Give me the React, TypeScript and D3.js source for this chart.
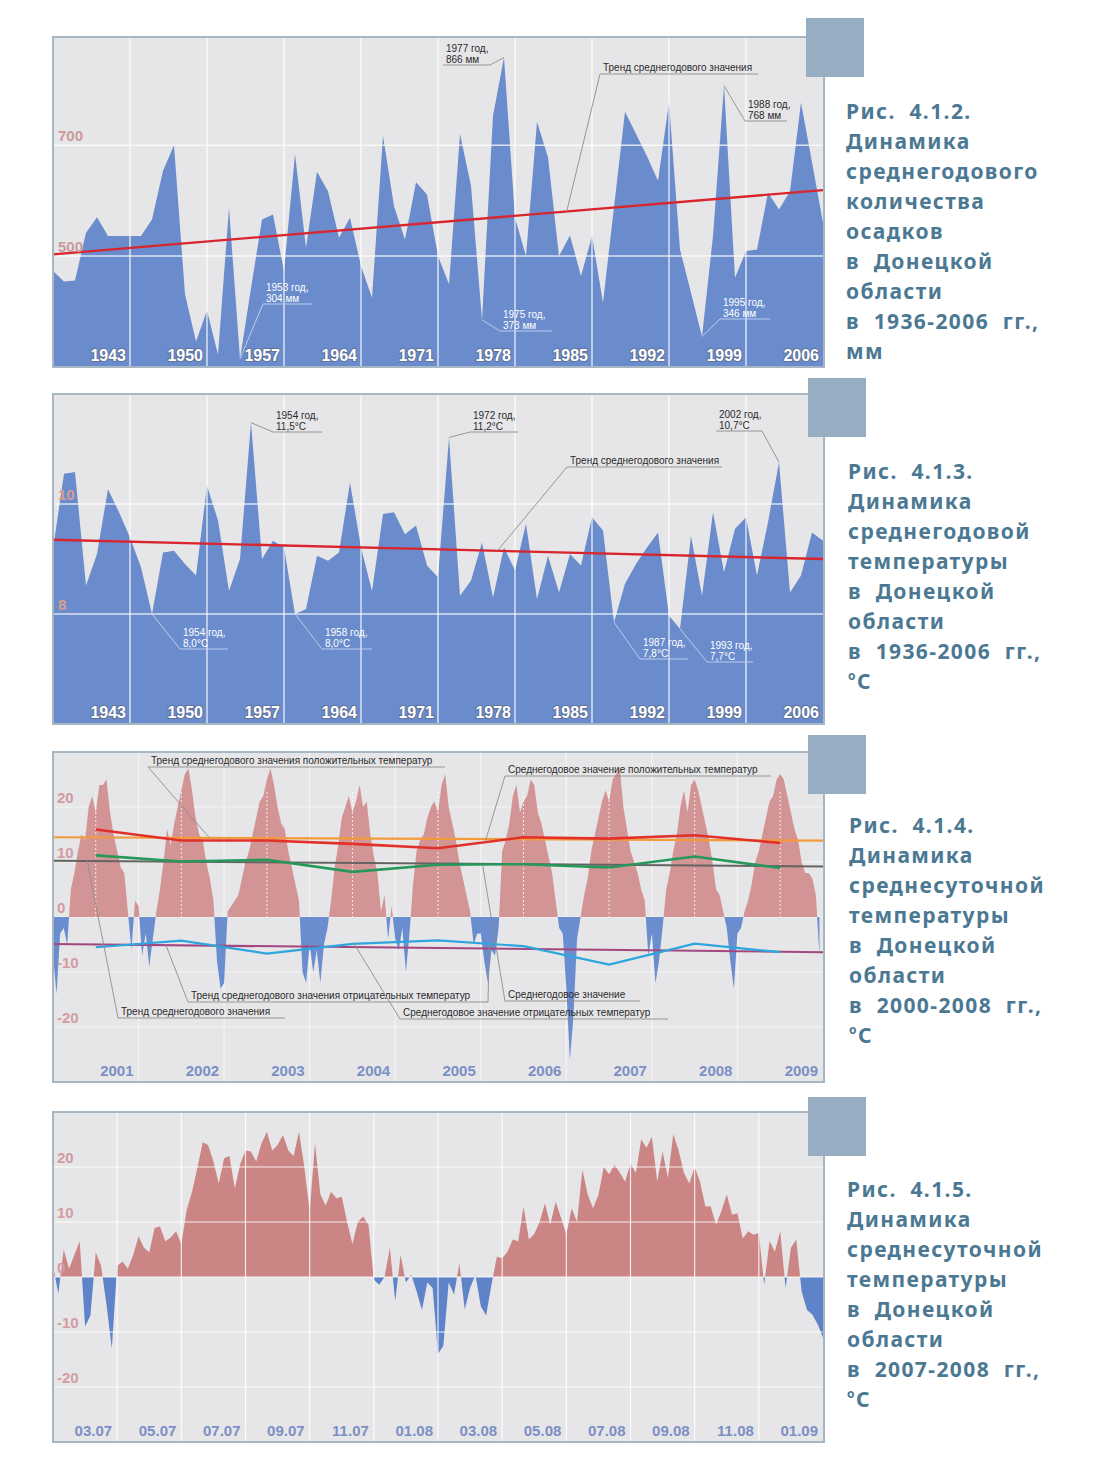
import React from 'react';
import * as d3 from 'd3';

const PAGE_W = 1111;
const PAGE_H = 1480;
const LEFT = 53;
const RIGHT = 824;
const PLOT_H = 330;

// ---------- Рис. 4.1.2 / 4.1.3 : annual values 1936-2006 ----------
const annualYears = d3.range(1936, 2007);
const precipitation = [
  473, 454, 456, 542, 570, 536, 536, 536, 536, 566, // 1936-1945
  654, 700, 431, 346, 402, 322, 587, 315, 442, 566, // 1946-1955
  575, 473, 684, 515, 652, 617, 533, 569, 482, 425, // 1956-1965
  717, 590, 530, 633, 611, 500, 449, 720, 627, 385, // 1966-1975
  753, 858, 569, 500, 742, 678, 500, 537, 464, 536, // 1976-1985
  416, 588, 760, 720, 680, 636, 777, 512, 434, 355, // 1986-1995
  536, 807, 461, 509, 512, 614, 584, 617, 777, 669, // 1996-2005
  560,
];
const temperature = [
  9.18, 10.55, 10.58, 8.52, 9.09, 10.27, 9.85, 9.39, 8.85, 8.0,
  9.12, 9.15, 8.91, 8.7, 10.33, 9.7, 8.42, 9.0, 11.48, 9.0,
  9.33, 9.21, 8.0, 8.09, 9.06, 8.97, 9.12, 10.39, 9.21, 8.42,
  9.82, 9.85, 9.45, 9.61, 8.88, 8.67, 11.21, 8.33, 8.61, 9.3,
  8.3, 9.21, 8.79, 9.64, 8.27, 9.06, 8.39, 9.09, 8.88, 9.76,
  9.52, 7.85, 8.55, 8.91, 9.21, 9.48, 7.97, 7.73, 9.42, 8.33,
  9.85, 8.76, 9.55, 9.76, 8.7, 9.67, 10.76, 8.39, 8.7, 9.48,
  9.33,
];
const trendYears = [1936, 2006];
const precipTrend = [503, 619];
const tempTrend = [9.35, 9.0];
const yearTicks = [1943, 1950, 1957, 1964, 1971, 1978, 1985, 1992, 1999, 2006];
const precipTicks = [700, 500];
const tempTicks = [10, 8];

// ---------- Рис. 4.1.4 : daily temperature 2000-2008 (read twice a month) ----------
const dailyYears = [2000, 2001, 2002, 2003, 2004, 2005, 2006, 2007, 2008];
const d2000 = [-7, -14, -3, -2, -5, 5, 8, 12, 15, 14, 20, 22, 19, 24, 24, 25, 19, 15, 12, 9, 8, 1, -6, 3];
const d2001 = [2, -7, -3, -9, -4, 1, 5, 10, 16, 13, 17, 20, 23, 26, 27, 23, 18, 15, 14, 10, 7, 3, -8, -13];
const d2002 = [-12, 1, 2, 3, 4, 7, 10, 12, 15, 18, 21, 22, 25, 27, 24, 20, 17, 16, 12, 9, 6, 3, -10, -12];
const d2003 = [-5, -10, -6, -12, -5, -2, 3, 9, 13, 18, 20, 22, 19, 21, 24, 20, 21, 15, 11, 8, 1, 4, -4, 2];
const d2004 = [-4, -6, -2, -10, -3, 6, 12, 14, 15, 18, 20, 21, 19, 24, 26, 20, 17, 14, 10, 7, 4, 1, -5, -3];
const d2005 = [-3, -8, -12, -6, -7, -2, 12, 14, 17, 22, 24, 19, 21, 22, 25, 24, 19, 17, 14, 11, 8, 3, -2, -3];
const d2006 = [-13, -26, -18, -4, 0, 4, 7, 12, 15, 18, 21, 23, 21, 25, 26, 27, 20, 16, 12, 10, 8, 5, 3, -7];
const d2007 = [-3, -12, -8, -2, 5, 8, 12, 15, 20, 23, 19, 24, 25, 23, 20, 17, 14, 10, 5, 4, 1, -2, -8, -13];
const d2008 = [-3, -2, 1, 3, 6, 10, 12, 15, 18, 21, 22, 25, 26, 25, 22, 19, 16, 14, 10, 8, 8, 7, 4, -7];
const dailyByYear = [d2000, d2001, d2002, d2003, d2004, d2005, d2006, d2007, d2008];
const midYears = [2000.5, 2001.5, 2002.5, 2003.5, 2004.5, 2005.5, 2006.5, 2007.5, 2008.5];
const posMean = [15.9, 13.9, 13.9, 13.3, 12.5, 14.5, 14.25, 14.85, 13.45];
const allMean = [11.2, 10.1, 10.4, 8.2, 9.5, 9.6, 9.0, 11.0, 8.9];
const negMean = [-5.5, -4.3, -6.65, -4.9, -4.25, -5.3, -8.65, -4.85, -6.4];
const periodEnds = [2000, 2009];
const posTrend = [14.5, 13.9];
const allTrend = [10.25, 9.2];
const negTrend = [-4.9, -6.4];
const yearLabels = [2001, 2002, 2003, 2004, 2005, 2006, 2007, 2008, 2009];

// ---------- Рис. 4.1.5 : daily temperature 2007-2008 (six readings a month) ----------
const t2007 = [
  2, -3, 5, 1.5, 4, 6.5, -9, -7, 4.5, 2, -5, -13,
  2, 2.8, 1.5, 4, 7.4, 5.3, 4.5, 8.9, 9.2, 6.5, 7.2, 8.3,
  6, 12.2, 15.5, 19.8, 24.5, 24, 21, 17, 21.6, 22, 16.1, 20.5,
  23, 22.8, 21, 24.3, 26.4, 23, 24, 25.8, 23, 22, 26.4, 20,
  11.9, 24.3, 15, 13, 15.5, 14.3, 14.6, 10, 6, 10, 11, 9.5,
  -0.5, -1.4, 0, 5.3, -4.4, 4, -1, 0.4, -2.6, -6, -1, -2,
];
const t2008 = [
  -14, -12.5, -1, -3.2, 2.5, -5.9, -2, 0.4, -5.3, -7, -1.4, 3.7,
  3.4, 4.6, 6.8, 6.5, 12.8, 6.8, 7.8, 10, 13.4, 9.5, 13.7, 10.8,
  7.7, 12.5, 10, 19.5, 15, 12.5, 14.9, 20, 18.7, 20.4, 19, 17.3,
  20.7, 18.9, 25, 23.5, 25.5, 17.3, 22.8, 18, 26, 23, 18.9, 17,
  20, 17.3, 12.8, 12.8, 9.5, 12, 15, 11.3, 11.6, 7, 8.3, 7.7,
  8, -1.4, 6.5, 4.6, 8.3, -2, 5.3, 6.8, -2.6, -6, -6.8, -8.6,
  -11,
];
const monthTicks = [2, 4, 6, 8, 10, 12, 14, 16, 18, 20, 22, 24];
const monthLabels = ['03.07', '05.07', '07.07', '09.07', '11.07', '01.08', '03.08', '05.08', '07.08', '09.08', '11.08', '01.09'];
const dailyTicks = [20, 10, 0, -10, -20];

// ---------- captions ----------
const caption2 = ['Рис.  4.1.2.', 'Динамика', 'среднегодового', 'количества', 'осадков', 'в  Донецкой', 'области', 'в  1936-2006  гг.,', 'мм'];
const caption3 = ['Рис.  4.1.3.', 'Динамика', 'среднегодовой', 'температуры', 'в  Донецкой', 'области', 'в  1936-2006  гг.,', '°С'];
const caption4 = ['Рис.  4.1.4.', 'Динамика', 'среднесуточной', 'температуры', 'в  Донецкой', 'области', 'в  2000-2008  гг.,', '°С'];
const caption5 = ['Рис.  4.1.5.', 'Динамика', 'среднесуточной', 'температуры', 'в  Донецкой', 'области', 'в  2007-2008  гг.,', '°С'];

// annotation layout: underline [x1, x2, y], leaders [side, series, x value]
type Leader = [string, string, number];
interface NoteDef { lines: string[]; ul: [number, number, number]; leaders: Leader[]; light?: boolean }

const notes2: NoteDef[] = [
  { lines: ['1977 год,', '866 мм'], ul: [443, 490, 65], leaders: [['right', 'data', 1977]] },
  { lines: ['Тренд среднегодового значения'], ul: [600, 758, 74], leaders: [['left', 'trend', 1982.7]] },
  { lines: ['1988 год,', '768 мм'], ul: [745, 787, 121], leaders: [['left', 'data', 1997]] },
  { lines: ['1975 год,', '373 мм'], ul: [500, 552, 331], leaders: [['left', 'data', 1975]], light: true },
  { lines: ['1995 год,', '346 мм'], ul: [720, 770, 319], leaders: [['left', 'data', 1995]], light: true },
  { lines: ['1953 год,', '304 мм'], ul: [263, 312, 304], leaders: [['left', 'data', 1953]], light: true },
];
const notes3: NoteDef[] = [
  { lines: ['1954 год,', '11,5°C'], ul: [273, 322, 432], leaders: [['left', 'data', 1954]] },
  { lines: ['1954 год,', '8,0°C'], ul: [180, 228, 649], leaders: [['left', 'data', 1945]], light: true },
  { lines: ['1958 год,', '8,0°C'], ul: [322, 372, 649], leaders: [['left', 'data', 1958]], light: true },
  { lines: ['1972 год,', '11,2°C'], ul: [470, 518, 432], leaders: [['left', 'data', 1972]] },
  { lines: ['Тренд среднегодового значения'], ul: [567, 722, 467], leaders: [['left', 'trend', 1976.4]] },
  { lines: ['2002 год,', '10,7°C'], ul: [716, 762, 431], leaders: [['right', 'data', 2002]] },
  { lines: ['1987 год,', '7,8°C'], ul: [640, 688, 659], leaders: [['left', 'data', 1987]], light: true },
  { lines: ['1993 год,', '7,7°C'], ul: [707, 753, 662], leaders: [['left', 'data', 1993]], light: true },
];
const notes4: NoteDef[] = [
  { lines: ['Тренд среднегодового значения положительных температур'], ul: [148, 445, 767], leaders: [['left', 'posTrend', 2001.83]] },
  { lines: ['Среднегодовое значение положительных температур'], ul: [505, 771, 776], leaders: [['left', 'posMean', 2005.05]] },
  { lines: ['Тренд среднегодового значения отрицательных температур'], ul: [188, 488, 1002], leaders: [['left', 'negTrend', 2001.32], ['right', 'negMean', 2005.1]] },
  { lines: ['Тренд среднегодового значения'], ul: [118, 285, 1018], leaders: [['left', 'allTrend', 2000.4]] },
  { lines: ['Среднегодовое значение'], ul: [505, 640, 1001], leaders: [['left', 'allMean', 2005.02]] },
  { lines: ['Среднегодовое значение отрицательных температур'], ul: [400, 668, 1019], leaders: [['left', 'negMean', 2003.52]] },
];

function Notes({ notes, target }: { notes: NoteDef[]; target: (s: string, v: number) => [number, number] }) {
  return (
    <g>
      {notes.map((n, i) => {
        const [x1, x2, uy] = n.ul;
        const stroke = n.light ? '#c6d3ee' : '#8d8d8d';
        const fill = n.light ? '#ffffff' : '#2a2a2a';
        return (
          <g key={i}>
            <line x1={x1} x2={x2} y1={uy} y2={uy} stroke={stroke} strokeWidth={0.9} />
            {n.leaders.map(([side, series, xv], j) => {
              const [px, py] = target(series, xv);
              return <line key={j} x1={side === 'left' ? x1 : x2} y1={uy} x2={px} y2={py} stroke={stroke} strokeWidth={0.9} />;
            })}
            {n.lines.map((t, j) => (
              <text key={j} x={x1 + 3} y={n.lines.length === 1 ? uy - 3 : uy - 13 + j * 10.5} fontSize={10} fill={fill}>{t}</text>
            ))}
          </g>
        );
      })}
    </g>
  );
}

function AnnualChart({ top, values, trend, domain, ticks, tickColor, notes }: any) {
  const bottom = top + PLOT_H;
  const x = d3.scaleLinear().domain([1936, 2006]).range([LEFT, RIGHT - 1]);
  const y = d3.scaleLinear().domain(domain).range([bottom, top]);
  const trendAt = d3.scaleLinear().domain(trendYears).range(trend);
  const area = d3.area<number>().x((_, i) => x(annualYears[i])).y0(bottom).y1(d => y(d));
  const trendLine = d3.line<number>().x((_, i) => x(trendYears[i])).y(d => y(d));
  const target = (s: string, v: number): [number, number] =>
    s === 'trend' ? [x(v), y(trendAt(v))] : [x(v), y(values[annualYears.indexOf(v)])];

  return (
    <g>
      <rect x={LEFT} y={top} width={RIGHT - LEFT} height={PLOT_H} fill="#e6e6e8" />
      <path d={area(values) || ''} fill="#6a8ccc" />
      {yearTicks.slice(0, -1).map(t => (
        <line key={t} x1={x(t)} x2={x(t)} y1={top} y2={bottom} stroke="#fff" strokeOpacity={0.75} strokeWidth={1.5} />
      ))}
      {ticks.map((t: number) => (
        <line key={t} x1={LEFT} x2={RIGHT} y1={y(t)} y2={y(t)} stroke="#fff" strokeOpacity={0.75} strokeWidth={1.5} />
      ))}
      <path d={trendLine(trend) || ''} stroke="#d8252e" strokeWidth={2.3} fill="none" />
      <Notes notes={notes} target={target} />
      {ticks.map((t: number) => (
        <text key={t} x={LEFT + 5} y={y(t) - 4} fill={tickColor} fontSize={15} fontWeight="bold">{t}</text>
      ))}
      {yearTicks.map(t => (
        <text key={t} x={x(t) - 4} y={bottom - 6.5} textAnchor="end" fontSize={16} fontWeight="bold"
          fill="#fff" stroke="#61739a" strokeWidth={2} strokeLinejoin="round" style={{ paintOrder: 'stroke' }}>{t}</text>
      ))}
      <rect x={LEFT} y={top} width={RIGHT - LEFT} height={PLOT_H} fill="none" stroke="#a7b6c3" strokeWidth={2} />
    </g>
  );
}

function DailyChart({ id, top, xDomain, xs, values, gridX, midX, tickX, tickLabels, overlays, notes, targets, gridOnTop, pink, blue, areaOpacity }: any) {
  const bottom = top + PLOT_H;
  const x = d3.scaleLinear().domain(xDomain).range([LEFT, RIGHT - 1]);
  const y = d3.scaleLinear().domain([-30, 30]).range([bottom, top]);
  const area = d3.area<number>().x((_, i) => x(xs[i])).y0(y(0)).y1(d => y(d));
  const line = d3.line<[number, number]>().x(d => x(d[0])).y(d => y(d[1]));
  const target = (s: string, v: number): [number, number] => [x(v), y(targets[s](v))];

  const grid = (
    <g stroke="#fff" strokeOpacity={gridOnTop ? 0.85 : 0.6} strokeWidth={1.2}>
      {gridX.map((t: number) => <line key={'v' + t} x1={x(t)} x2={x(t)} y1={top} y2={bottom} />)}
      {dailyTicks.map(t => <line key={'h' + t} x1={LEFT} x2={RIGHT} y1={y(t)} y2={y(t)} />)}
    </g>
  );

  return (
    <g>
      <defs>
        <clipPath id={id + 'pos'}><rect x={LEFT} y={top} width={RIGHT - LEFT} height={y(0) - top} /></clipPath>
        <clipPath id={id + 'neg'}><rect x={LEFT} y={y(0)} width={RIGHT - LEFT} height={bottom - y(0)} /></clipPath>
      </defs>
      <rect x={LEFT} y={top} width={RIGHT - LEFT} height={PLOT_H} fill="#e6e6e8" />
      {!gridOnTop && grid}
      <g opacity={areaOpacity}>
        <path d={area(values) || ''} fill={pink} clipPath={`url(#${id}pos)`} />
        <path d={area(values) || ''} fill={blue} clipPath={`url(#${id}neg)`} />
      </g>
      {gridOnTop && grid}
      {midX.map((t: number) => (
        <line key={t} x1={x(t)} x2={x(t)} y1={top + 40} y2={y(0)} stroke="#fff" strokeOpacity={0.8} strokeWidth={1} strokeDasharray="2,2" />
      ))}
      {overlays.map((o: any, i: number) => (
        <path key={i} d={line(o.xs.map((v: number, j: number) => [v, o.ys[j]])) || ''} fill="none" stroke={o.color} strokeWidth={o.width} />
      ))}
      <Notes notes={notes} target={target} />
      {dailyTicks.map(t => (
        <text key={t} x={LEFT + 4} y={y(t) - 4} fill="#d29ca2" fontSize={15} fontWeight="bold">{t}</text>
      ))}
      {tickX.map((t: number, i: number) => (
        <text key={t} x={x(t) - 5} y={bottom - 6.5} textAnchor="end" fill="#7b8fc4" fontSize={15} fontWeight="bold">{tickLabels[i]}</text>
      ))}
      <rect x={LEFT} y={top} width={RIGHT - LEFT} height={PLOT_H} fill="none" stroke="#a7b6c3" strokeWidth={2} />
    </g>
  );
}

function Caption({ x, y, lines }: { x: number; y: number; lines: string[] }) {
  return (
    <text x={x} y={y} fill="#4b7892" fontFamily="'Noto Sans', 'DejaVu Sans', sans-serif" fontWeight="bold"
      fontSize={21} letterSpacing={1.4} style={{ whiteSpace: 'pre' }}>
      {lines.map((l, i) =>
        l === '°С' ? (
          <tspan key={i} x={x} y={y + i * 30}>
            <tspan fontSize={12} dy={-9}>o</tspan>
            <tspan dy={9}>С</tspan>
          </tspan>
        ) : (
          <tspan key={i} x={x} y={y + i * 30}>{l}</tspan>
        )
      )}
    </text>
  );
}

export default function App() {
  const dailyX = dailyYears.flatMap(yr => d3.range(24).map(k => yr + k / 24));
  const dailyT = dailyByYear.flat();
  const t0708 = [...t2007, ...t2008];
  const monthX = t0708.map((_, i) => i / 6);

  const byYear = (xs: number[], ys: number[]) => d3.scaleLinear().domain(xs).range(ys).clamp(true);
  const targets4 = {
    posTrend: byYear(periodEnds, posTrend),
    allTrend: byYear(periodEnds, allTrend),
    negTrend: byYear(periodEnds, negTrend),
    posMean: byYear(midYears, posMean),
    allMean: byYear(midYears, allMean),
    negMean: byYear(midYears, negMean),
  };
  const overlays4 = [
    { xs: periodEnds, ys: posTrend, color: '#f39b3b', width: 2.2 },
    { xs: midYears, ys: posMean, color: '#e2312b', width: 2.6 },
    { xs: periodEnds, ys: allTrend, color: '#646464', width: 2 },
    { xs: midYears, ys: allMean, color: '#25985a', width: 2.6 },
    { xs: periodEnds, ys: negTrend, color: '#a2487f', width: 2 },
    { xs: midYears, ys: negMean, color: '#2fa5dd', width: 2.2 },
  ];

  const squares = [[806, 18], [808, 378], [808, 735], [808, 1097]];

  return (
    <svg width={PAGE_W} height={PAGE_H} style={{ position: 'absolute', left: 0, top: 0, background: '#fff' }}
      fontFamily="'Liberation Sans', Arial, sans-serif">
      <rect width={PAGE_W} height={PAGE_H} fill="#fff" />
      <AnnualChart top={37} values={precipitation} trend={precipTrend} domain={[300, 895]}
        ticks={precipTicks} tickColor="#c99a9e" notes={notes2} />
      <AnnualChart top={394} values={temperature} trend={tempTrend} domain={[6, 12]}
        ticks={tempTicks} tickColor="#dc9c8c" notes={notes3} />
      <DailyChart id="c4" top={752} xDomain={[2000, 2009]} xs={dailyX} values={dailyT}
        gridX={d3.range(2001, 2009)} midX={midYears} tickX={yearLabels} tickLabels={yearLabels.map(String)}
        overlays={overlays4} notes={notes4} targets={targets4} gridOnTop={false}
        pink="#d18e8e" blue="#5f86cc" areaOpacity={0.92} />
      <DailyChart id="c5" top={1112} xDomain={[0, 24]} xs={monthX} values={t0708}
        gridX={monthTicks.slice(0, -1)} midX={[]} tickX={monthTicks} tickLabels={monthLabels}
        overlays={[]} notes={[]} targets={{}} gridOnTop={true}
        pink="#cc8585" blue="#5f83c9" areaOpacity={1} />
      {squares.map(([sx, sy], i) => (
        <rect key={i} x={sx} y={sy} width={58} height={59} fill="#97adc1" />
      ))}
      <Caption x={846} y={119} lines={caption2} />
      <Caption x={848} y={479} lines={caption3} />
      <Caption x={849} y={833} lines={caption4} />
      <Caption x={847} y={1197} lines={caption5} />
    </svg>
  );
}
